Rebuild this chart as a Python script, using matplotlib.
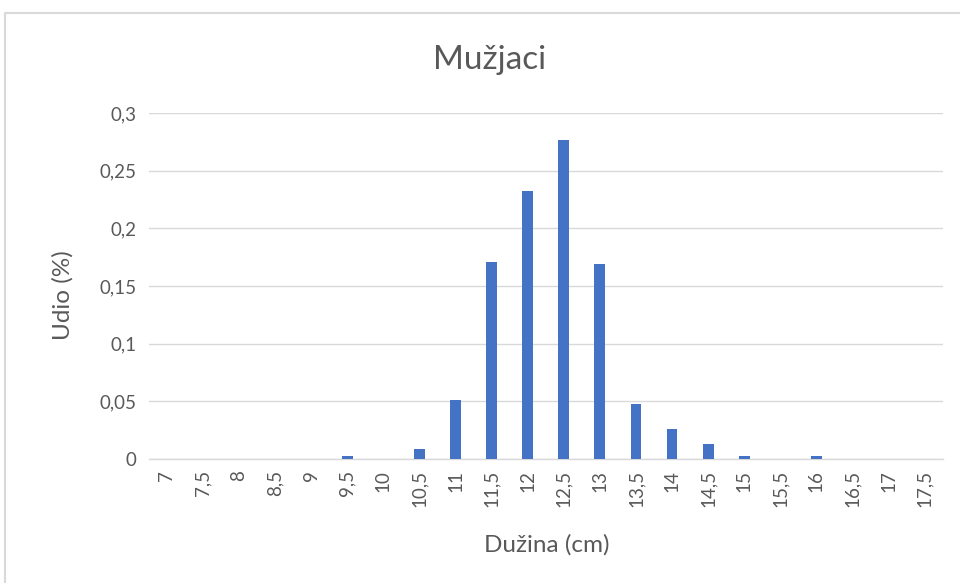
import matplotlib
matplotlib.use("Agg")
import matplotlib.pyplot as plt
from matplotlib.lines import Line2D
import numpy as np

# Data
lengths = ["7", "7,5", "8", "8,5", "9", "9,5", "10", "10,5", "11", "11,5", "12",
           "12,5", "13", "13,5", "14", "14,5", "15", "15,5", "16", "16,5", "17", "17,5"]
shares = [0, 0, 0, 0, 0, 0.0026, 0, 0.0087, 0.051, 0.171, 0.232,
          0.277, 0.169, 0.048, 0.026, 0.013, 0.0026, 0, 0.0026, 0, 0, 0]
y_ticks = [0, 0.05, 0.1, 0.15, 0.2, 0.25, 0.3]
y_tick_labels = ["0", "0,05", "0,1", "0,15", "0,2", "0,25", "0,3"]

text_color = "#595959"
grid_color = "#d9d9d9"
bar_color = "#4472C4"

plt.rcParams["font.family"] = ["Lato", "DejaVu Sans"]

fig = plt.figure(figsize=(9.6, 5.83), dpi=100)
ax = fig.add_axes([0.155, 0.2127, 0.827, 0.5935])

x = np.arange(len(lengths))
ax.bar(x, shares, width=0.3, color=bar_color, zorder=3)

ax.set_xlim(-0.5, len(lengths) - 0.5)
ax.set_ylim(0, 0.3)
ax.set_yticks(y_ticks)
ax.set_yticklabels(y_tick_labels)
ax.set_xticks(x)
ax.set_xticklabels(lengths, rotation=90)
ax.tick_params(axis="both", length=0, labelsize=13.5, colors=text_color)
ax.tick_params(axis="x", pad=8)
ax.tick_params(axis="y", pad=9)

ax.yaxis.grid(True, color=grid_color, linewidth=1, zorder=0)
for side in ("top", "right", "left"):
    ax.spines[side].set_visible(False)
ax.spines["bottom"].set_color(grid_color)
ax.spines["bottom"].set_linewidth(1)

fig.text(63 / 960, 1 - 295 / 583, "Udio (%)", fontsize=17.5, color=text_color,
         ha="center", va="center", rotation=90)
fig.text(547 / 960, 1 - 545 / 583, "Dužina (cm)", fontsize=17.5, color=text_color,
         ha="center", va="center")
fig.text(490 / 960, 1 - 60 / 583, "Mužjaci", fontsize=24, color=text_color,
         ha="center", va="center")

# outer chart frame (cropped on the right and bottom)
fx = 5 / 960
fy = 1 - 13 / 583
fig.add_artist(Line2D([fx, fx, 1], [0, fy, fy], transform=fig.transFigure,
                      color=grid_color, linewidth=1.5))

fig.savefig("out.png", dpi=100)
